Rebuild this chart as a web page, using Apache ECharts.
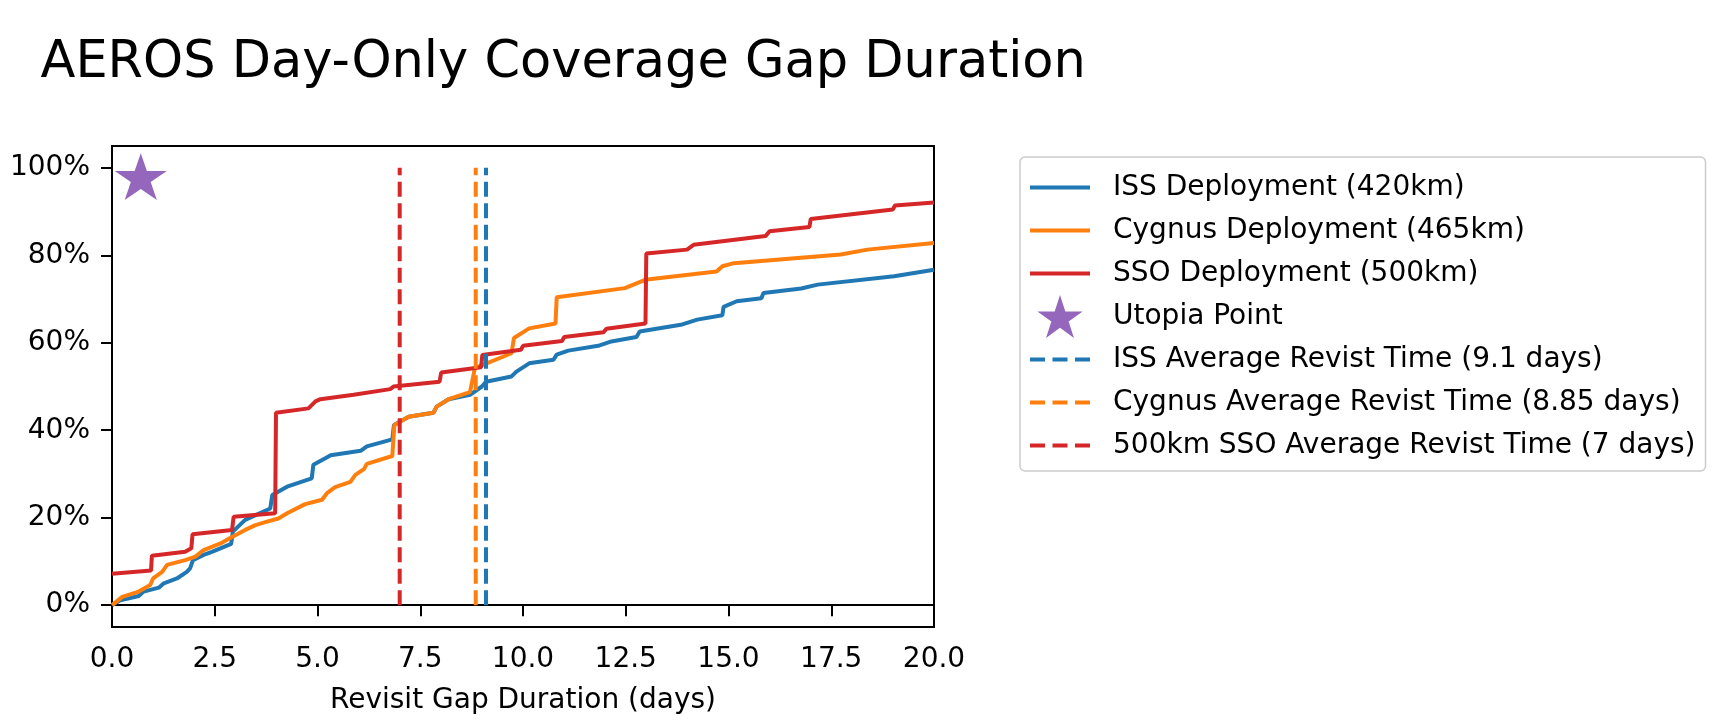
<!DOCTYPE html>
<html>
<head>
<meta charset="utf-8">
<script src="https://cdn.jsdelivr.net/npm/echarts@6/dist/echarts.min.js"></script>
<style>
html,body{margin:0;padding:0;background:#fff;}
#chart{width:1718px;height:724px;}
</style>
</head>
<body>
<div id="chart"></div>
<script>
// ---- data ----
const titleText = 'AEROS Day-Only Coverage Gap Duration';
const xAxisName = 'Revisit Gap Duration (days)';
const yTicks = [0, 20, 40, 60, 80, 100];

const seriesNames = [
  'ISS Deployment (420km)',
  'Cygnus Deployment (465km)',
  'SSO Deployment (500km)',
  'Utopia Point',
  'ISS Average Revist Time (9.1 days)',
  'Cygnus Average Revist Time (8.85 days)',
  '500km SSO Average Revist Time (7 days)'
];

const issX = [0, 0.2, 0.65, 0.77, 1.14, 1.26, 1.58, 1.82, 1.9, 1.97, 2.23, 2.43, 2.9, 2.94, 3.24, 3.85, 3.9, 4.26, 4.86, 4.9, 5.19, 5.32, 6.05, 6.2, 6.82, 6.86, 7.22, 7.82, 7.9, 8.19, 8.71, 9.0, 9.1, 9.72, 9.84, 10.15, 10.74, 10.82, 11.1, 11.83, 12.15, 12.76, 12.84, 13.84, 14.24, 14.85, 14.88, 15.2, 15.8, 15.85, 16.77, 17.17, 19.03, 20];
const issY = [0, 1.1, 2.1, 3.1, 4.0, 5.0, 6.1, 7.6, 8.4, 10.3, 11.5, 12.2, 14.0, 16.8, 19.5, 22.1, 25.2, 27.1, 29.0, 32.1, 33.6, 34.3, 35.3, 36.3, 37.9, 41.2, 43.1, 44.0, 45.4, 47.1, 48.1, 50.0, 51.1, 52.3, 53.4, 55.3, 56.1, 57.3, 58.2, 59.3, 60.3, 61.3, 62.6, 64.1, 65.3, 66.3, 68.2, 69.5, 70.2, 71.4, 72.4, 73.3, 75.2, 76.7];

const cygX = [0, 0.25, 0.65, 0.93, 1.0, 1.22, 1.34, 1.78, 2.03, 2.23, 2.64, 2.92, 3.24, 3.49, 3.77, 4.05, 4.26, 4.7, 5.11, 5.23, 5.43, 5.8, 5.92, 6.13, 6.2, 6.82, 6.87, 7.22, 7.82, 7.9, 8.19, 8.71, 8.83, 9.72, 9.78, 10.15, 10.79, 10.82, 12.48, 12.97, 14.71, 14.85, 15.13, 17.73, 18.38, 20];
const cygY = [0, 1.9, 3.1, 4.6, 6.1, 7.6, 9.2, 10.3, 11.1, 12.6, 14.1, 15.6, 17.2, 18.3, 19.1, 19.8, 21.0, 23.1, 24.1, 25.6, 27.0, 28.2, 29.8, 31.1, 32.3, 34.1, 41.2, 43.1, 44.0, 45.4, 47.1, 48.7, 54.2, 57.6, 61.1, 63.3, 64.4, 70.4, 72.5, 74.4, 76.3, 77.5, 78.2, 80.2, 81.3, 82.8];

const ssoX = [0, 0.95, 0.97, 1.78, 1.93, 1.96, 2.92, 2.96, 3.97, 3.99, 4.78, 4.95, 5.07, 5.88, 6.77, 6.85, 7.97, 8.01, 8.98, 9.01, 9.95, 10.0, 10.95, 11.0, 11.96, 12.03, 12.98, 13.0, 13.99, 14.15, 15.9, 16.0, 16.97, 17.0, 19.0, 19.05, 20];
const ssoY = [7.2, 7.9, 11.3, 12.2, 13.0, 16.2, 17.2, 20.2, 21.0, 44.0, 45.0, 46.6, 47.1, 48.1, 49.4, 50.0, 51.1, 53.2, 54.4, 57.2, 58.4, 59.3, 60.4, 61.3, 62.4, 63.2, 64.4, 80.4, 81.3, 82.4, 84.4, 85.5, 86.5, 88.3, 90.5, 91.4, 92.1];

const utopiaPoint = [0.7, 98];
const avgRevisit = [9.1, 8.85, 7];   // ISS, Cygnus, SSO
const avgLineSpan = [0, 100];

// ---- styles ----
const colors = ['#1f77b4', '#ff7f0e', '#d62728', '#9467bd'];
const FONT = 'DejaVu Sans';
const LW = 4;

function zip(xs, ys) { return xs.map((x, i) => [x, ys[i]]); }

// five-point star outline (matplotlib '*' marker shape)
function starPath() {
  const pts = [];
  for (let k = 0; k < 10; k++) {
    const r = (k % 2 === 0) ? 1 : 0.381966;
    const a = k * Math.PI / 5;
    pts.push([(r * Math.sin(a)).toFixed(4), (-r * Math.cos(a)).toFixed(4)]);
  }
  return 'path://M' + pts.map(p => p[0] + ',' + p[1]).join('L') + 'Z';
}
const STAR = starPath();
// legend icons: solid and dashed line swatches
const SOLID_ICON = 'path://M0,0H60V4H0Z';
const DASH_ICON = 'path://M0,0H15V4H0Z M22.5,0H37.5V4H22.5Z M45,0H60V4H45Z';

function curve(name, xs, ys, color) {
  return {
    name: name, type: 'line', data: zip(xs, ys), symbol: 'none',
    lineStyle: { color: color, width: LW }, itemStyle: { color: color },
    animation: false, z: 2
  };
}
function avgLine(name, x, color) {
  return {
    name: name, type: 'line', data: avgLineSpan.map(y => [x, y]), symbol: 'none',
    lineStyle: { color: color, width: LW, type: [15, 6.5] }, itemStyle: { color: color },
    animation: false, z: 4
  };
}

const legendData = seriesNames.map((n, i) => {
  if (i === 3) return { name: n, icon: STAR, itemStyle: { color: colors[3], borderWidth: 0 } };
  const c = colors[i < 3 ? i : i - 4];
  return { name: n, icon: i < 3 ? SOLID_ICON : DASH_ICON, itemStyle: { color: c, borderWidth: 0 } };
});

const chart = echarts.init(document.getElementById('chart'), null, { renderer: 'canvas' });
const option = {
  backgroundColor: '#ffffff',
  animation: false,
  textStyle: { fontFamily: FONT, color: '#000' },
  title: {
    text: titleText, left: 35.5, top: 33.5,
    textStyle: { fontFamily: FONT, fontSize: 51, fontWeight: 'normal', color: '#000' }
  },
  grid: {
    left: 112, right: 784, top: 146, bottom: 97,
    show: true, borderColor: '#000', borderWidth: 2, backgroundColor: 'transparent',
    containLabel: false, outerBoundsMode: 'none'
  },
  legend: {
    orient: 'vertical', left: 1020, top: 157,
    padding: [9, 10, 4, 10],
    itemWidth: 60, itemHeight: 43, itemGap: 0, symbolKeepAspect: true,
    borderColor: '#cccccc', borderWidth: 1.5, borderRadius: 5, backgroundColor: '#ffffff',
    textStyle: { fontFamily: FONT, fontSize: 28, color: '#000', lineHeight: 43, padding: [0, 0, 0, 18] },
    data: legendData
  },
  xAxis: {
    type: 'value', min: 0, max: 20, interval: 2.5,
    name: xAxisName, nameLocation: 'middle', nameGap: 60,
    nameTextStyle: { fontFamily: FONT, fontSize: 28, color: '#000' },
    axisLine: { show: true, lineStyle: { color: '#000', width: 2 } },
    axisTick: { show: true, inside: false, length: 11, lineStyle: { color: '#000', width: 2 } },
    axisLabel: { margin: 19, fontFamily: FONT, fontSize: 28, color: '#000', formatter: v => v.toFixed(1) },
    splitLine: { show: false }
  },
  yAxis: {
    type: 'value', min: -5, max: 105,
    axisLine: { show: true, lineStyle: { color: '#000', width: 2 } },
    axisTick: { show: true, inside: false, length: 11, customValues: yTicks, lineStyle: { color: '#000', width: 2 } },
    axisLabel: { margin: 22, fontFamily: FONT, fontSize: 28, color: '#000', customValues: yTicks, formatter: v => Math.round(v) + '%' },
    splitLine: { show: false }
  },
  series: [
    curve(seriesNames[0], issX, issY, colors[0]),
    curve(seriesNames[1], cygX, cygY, colors[1]),
    curve(seriesNames[2], ssoX, ssoY, colors[2]),
    {
      name: seriesNames[3], type: 'scatter', data: [utopiaPoint],
      symbol: STAR, symbolSize: [52, 49], symbolKeepAspect: true,
      itemStyle: { color: colors[3], opacity: 1 }, z: 3, animation: false
    },
    avgLine(seriesNames[4], avgRevisit[0], colors[0]),
    avgLine(seriesNames[5], avgRevisit[1], colors[1]),
    avgLine(seriesNames[6], avgRevisit[2], colors[2])
  ]
};
chart.setOption(option);
</script>
</body>
</html>
